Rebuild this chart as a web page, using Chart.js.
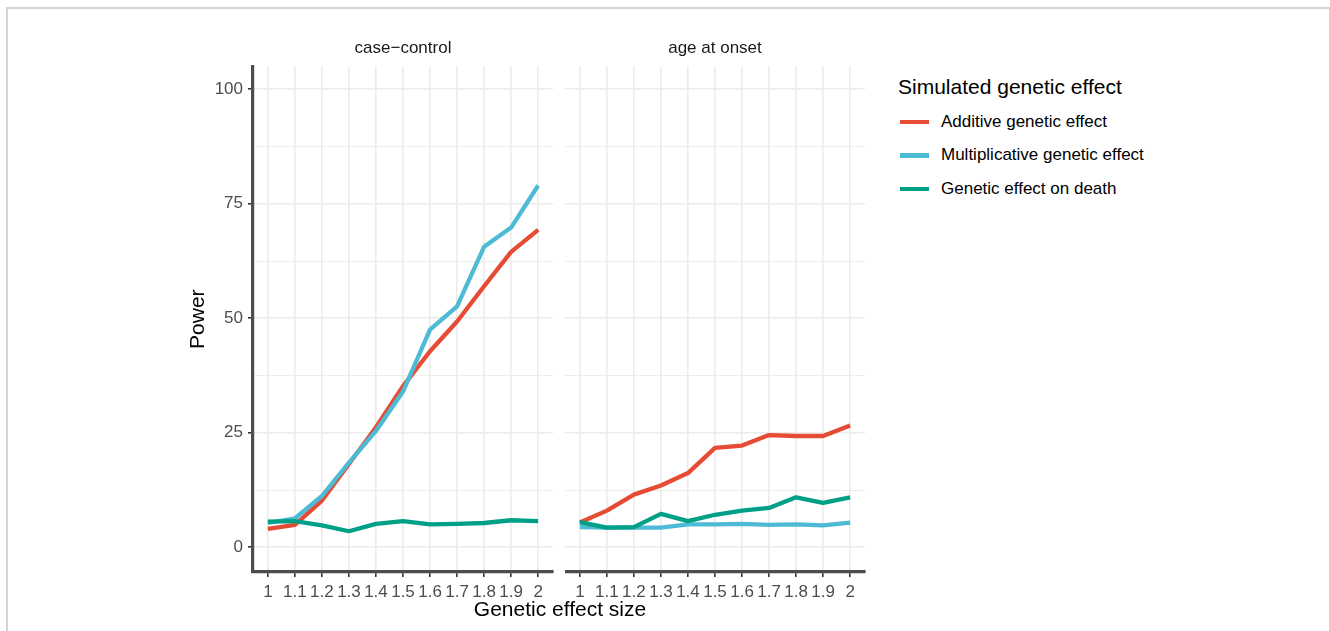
<!DOCTYPE html>
<html>
<head>
<meta charset="utf-8">
<script src="https://cdn.jsdelivr.net/npm/chart.js@4.4.1/dist/chart.umd.min.js"></script>
<style>
  body { margin: 0; background: #fff; font-family: 'Liberation Sans', Arial, sans-serif; }
  #frame { position: absolute; left: 6px; top: 7px; width: 1321px; height: 640px; border: 2px solid #d4d4d4; border-bottom: none; }
  canvas { position: absolute; }
  #xtitle { position: absolute; left: 360px; width: 400px; top: 597px; text-align: center; font-size: 21px; color: #000; }
  #legend { position: absolute; left: 898px; top: 74px; color: #000; }
  #legend .ttl { font-size: 21px; height: 26px; line-height: 26px; margin-bottom: 5px; }
  #legend .item { height: 33.5px; display: flex; align-items: center; font-size: 17px; }
  #legend .key { width: 29px; height: 4.5px; margin-left: 2px; margin-right: 12px; }
</style>
</head>
<body>
<div id="frame"></div>
<canvas id="cc" width="380" height="582" style="left:182px;top:30px"></canvas>
<canvas id="ao" width="310" height="582" style="left:565px;top:30px"></canvas>
<div id="xtitle">Genetic effect size</div>
<div id="legend"></div>

<script>
// genetic effect size (x) and power (%) per panel
let xValues = [1, 1.1, 1.2, 1.3, 1.4, 1.5, 1.6, 1.7, 1.8, 1.9, 2];
let yTicks = [0, 12.5, 25, 37.5, 50, 62.5, 75, 87.5, 100];

let seriesNames = ['Additive genetic effect', 'Multiplicative genetic effect', 'Genetic effect on death'];
let seriesColors = ['#E64B35', '#4DBBD5', '#00A087'];

let ccAdditive       = [4.0, 4.9, 10.2, 18.2, 26.2, 35.2, 42.8, 49.3, 57.0, 64.5, 69.3];
let ccMultiplicative = [5.3, 6.3, 11.2, 18.5, 25.4, 34.0, 47.5, 52.6, 65.6, 69.8, 79.0];
let ccDeath          = [5.6, 5.7, 4.8, 3.5, 5.1, 5.7, 5.0, 5.1, 5.3, 5.9, 5.7];

let aoAdditive       = [5.4, 8.0, 11.5, 13.5, 16.2, 21.7, 22.2, 24.5, 24.3, 24.3, 26.6];
let aoMultiplicative = [4.4, 4.3, 4.3, 4.3, 5.0, 5.0, 5.1, 4.9, 5.0, 4.8, 5.4];
let aoDeath          = [5.5, 4.3, 4.4, 7.3, 5.7, 7.1, 8.0, 8.6, 10.9, 9.7, 10.9];

const FONT = "'Liberation Sans', Arial, sans-serif";
const GRID = '#EBEBEB';
const AXIS = '#4D4D4D';

function isMajor(v) { return v % 25 === 0; }

function makeDatasets(lists) {
    return lists.map((vals, i) => ({
        label: seriesNames[i],
        data: xValues.map((x, j) => ({ x: x, y: vals[j] })),
        borderColor: seriesColors[i],
        backgroundColor: seriesColors[i],
        borderWidth: 4.3,
        pointRadius: 0,
        tension: 0,
        borderJoinStyle: 'round',
        order: 2 - i
    }));
}

function makeChart(id, title, lists, showY, padRight) {
    let ctx = document.getElementById(id).getContext('2d');
    return new Chart(ctx, {
        type: 'line',
        data: { datasets: makeDatasets(lists) },
        options: {
            responsive: false,
            animation: false,
            devicePixelRatio: 1,
            layout: { padding: { left: 0, right: padRight, top: 0, bottom: 0 } },
            plugins: {
                legend: { display: false },
                tooltip: { enabled: false },
                title: {
                    display: true,
                    text: title,
                    fullSize: false,
                    color: '#1A1A1A',
                    font: { family: FONT, size: 17, weight: 'normal' },
                    padding: { top: 8, bottom: 8 }
                }
            },
            scales: {
                x: {
                    type: 'linear',
                    min: 0.945,
                    max: 2.055,
                    afterBuildTicks: s => { s.ticks = xValues.map(v => ({ value: v })); },
                    afterFit: s => { s.height = 40; },
                    ticks: {
                        color: '#4D4D4D',
                        font: { family: FONT, size: 17 },
                        padding: 5,
                        maxRotation: 0,
                        autoSkip: false,
                        callback: v => String(Math.round(v * 10) / 10)
                    },
                    grid: { color: GRID, lineWidth: 1.6, tickColor: '#333', tickLength: 5, tickWidth: 1.6 },
                    border: { display: true, color: AXIS, width: 3.2 }
                },
                y: {
                    min: -5.4,
                    max: 105,
                    afterBuildTicks: s => { s.ticks = yTicks.map(v => ({ value: v })); },
                    afterFit: s => { s.width = showY ? 71 : 0; },
                    title: {
                        display: showY,
                        text: 'Power',
                        color: '#000',
                        font: { family: FONT, size: 21 },
                        padding: { top: 4, bottom: 4 }
                    },
                    ticks: {
                        display: showY,
                        color: '#4D4D4D',
                        font: { family: FONT, size: 17 },
                        padding: 5,
                        callback: v => isMajor(v) ? String(v) : ''
                    },
                    grid: {
                        color: GRID,
                        lineWidth: c => isMajor(c.tick.value) ? 1.6 : 0.9,
                        drawTicks: showY,
                        tickLength: 5,
                        tickWidth: 1.6,
                        tickColor: c => isMajor(c.tick.value) ? '#333' : 'rgba(0,0,0,0)'
                    },
                    border: { display: showY, color: AXIS, width: 3.2 }
                }
            }
        }
    });
}

makeChart('cc', 'case\u2212control', [ccAdditive, ccMultiplicative, ccDeath], true, 380 - (553 - 182));
makeChart('ao', 'age at onset', [aoAdditive, aoMultiplicative, aoDeath], false, 10);

// shared legend
let legend = document.getElementById('legend');
let html = '<div class="ttl">Simulated genetic effect</div>';
seriesNames.forEach((name, i) => {
    html += '<div class="item"><span class="key" style="background:' + seriesColors[i] + '"></span>' + name + '</div>';
});
legend.innerHTML = html;
</script>
</body>
</html>
